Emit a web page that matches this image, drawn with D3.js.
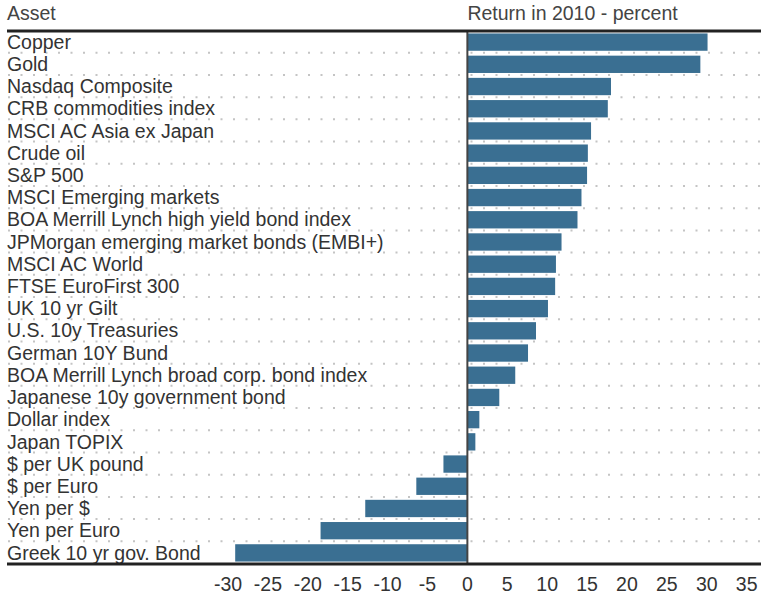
<!DOCTYPE html>
<html>
<head>
<meta charset="utf-8">
<script src="https://cdn.jsdelivr.net/npm/d3@7"></script>
<style>
  body { margin: 0; background: #fff; }
  svg text { font-family: "Liberation Sans", Arial, sans-serif; }
</style>
</head>
<body>
<div id="chart"></div>
<script>
const assets = [
  'Copper', 'Gold', 'Nasdaq Composite', 'CRB commodities index', 'MSCI AC Asia ex Japan',
  'Crude oil', 'S&P 500', 'MSCI Emerging markets', 'BOA Merrill Lynch high yield bond index',
  'JPMorgan emerging market bonds (EMBI+)', 'MSCI AC World', 'FTSE EuroFirst 300', 'UK 10 yr Gilt',
  'U.S. 10y Treasuries', 'German 10Y Bund', 'BOA Merrill Lynch broad corp. bond index',
  'Japanese 10y government bond', 'Dollar index', 'Japan TOPIX', '$ per UK pound', '$ per Euro',
  'Yen per $', 'Yen per Euro', 'Greek 10 yr gov. Bond'
];
const returns2010 = [
  30.1, 29.2, 18.0, 17.6, 15.5,
  15.1, 15.0, 14.3, 13.8,
  11.8, 11.1, 11.0, 10.1,
  8.6, 7.6, 6.0,
  4.0, 1.5, 1.0, -3.0, -6.4,
  -12.8, -18.4, -29.1
];
const xTicks = [-30, -25, -20, -15, -10, -5, 0, 5, 10, 15, 20, 25, 30, 35];

const W = 761, H = 595;
const M = { left: 7, right: 761, top: 31, bottom: 564 };

const svg = d3.select('#chart').append('svg')
  .attr('width', W).attr('height', H)
  .attr('viewBox', `0 0 ${W} ${H}`);

const x = d3.scaleLinear().domain([-57.7, 36.8]).range([M.left, M.right]);
const y = d3.scaleBand().domain(assets).range([M.top, M.bottom]).paddingInner(0.22).paddingOuter(0.11);

const step = y.step(), bw = y.bandwidth();

// dotted row separators (behind bars)
assets.slice(0, -1).forEach(a => {
  const yy = y(a) + bw + (step - bw) / 2 - 0.5;
  svg.append('line')
    .attr('x1', M.left + 1).attr('x2', M.right)
    .attr('y1', yy).attr('y2', yy)
    .attr('stroke', '#c4c4c4').attr('stroke-width', 2)
    .attr('stroke-dasharray', '2,10.5');
});

// bars
svg.selectAll('rect.bar').data(assets).enter().append('rect')
  .attr('class', 'bar')
  .attr('x', (d, i) => x(Math.min(0, returns2010[i])))
  .attr('y', d => y(d))
  .attr('width', (d, i) => Math.abs(x(returns2010[i]) - x(0)))
  .attr('height', bw)
  .attr('fill', '#3a6f92');

// zero line
svg.append('line')
  .attr('x1', x(0)).attr('x2', x(0)).attr('y1', M.top).attr('y2', M.bottom)
  .attr('stroke', '#444').attr('stroke-width', 2);

// labels
svg.selectAll('text.lbl').data(assets).enter().append('text')
  .attr('class', 'lbl')
  .attr('x', M.left)
  .attr('y', d => y(d) + bw - 2)
  .attr('fill', '#333')
  .style('font-size', '19.5px')
  .text(d => d);

// header
svg.append('text').attr('x', M.left).attr('y', 20).attr('fill', '#444').style('font-size', '19.5px').text('Asset');
svg.append('text').attr('x', x(0)).attr('y', 20).attr('fill', '#444').style('font-size', '19.5px').text('Return in 2010 - percent');

// top and bottom rules
svg.append('line').attr('x1', M.left).attr('x2', M.right).attr('y1', M.top).attr('y2', M.top)
  .attr('stroke', '#222').attr('stroke-width', 3);
svg.append('line').attr('x1', M.left).attr('x2', M.right).attr('y1', M.bottom).attr('y2', M.bottom)
  .attr('stroke', '#222').attr('stroke-width', 3);

// x axis labels
svg.selectAll('text.tick').data(xTicks).enter().append('text')
  .attr('class', 'tick')
  .attr('x', d => x(d))
  .attr('y', 591)
  .attr('text-anchor', 'middle')
  .attr('fill', '#333')
  .style('font-size', '19.5px')
  .text(d => d);
</script>
</body>
</html>
